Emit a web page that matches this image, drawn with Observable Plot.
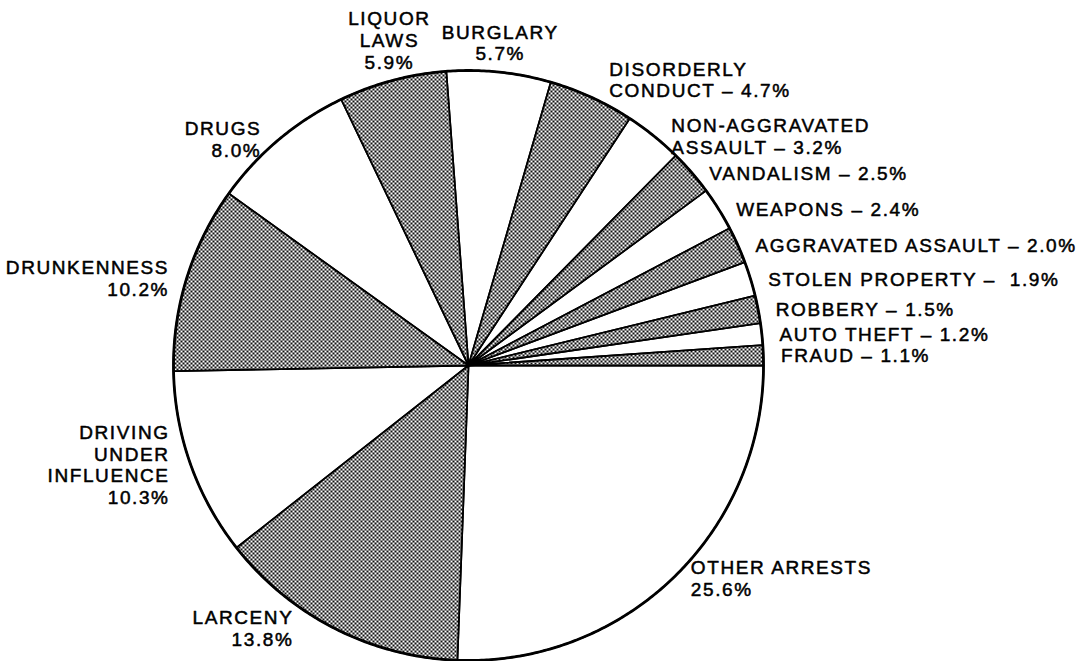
<!DOCTYPE html>
<html><head><meta charset="utf-8">
<script src="https://cdn.jsdelivr.net/npm/d3@7"></script>
<script src="https://cdn.jsdelivr.net/npm/@observablehq/plot@0.6"></script>
<style>body{margin:0;background:#fff;} svg{display:block}</style>
</head><body><div id="chart"></div>
<script>
// Categories, clockwise from 3 o'clock
const categories = ["OTHER ARRESTS", "LARCENY", "DRIVING\nUNDER\nINFLUENCE", "DRUNKENNESS", "DRUGS",
  "LIQUOR\nLAWS", "BURGLARY", "DISORDERLY\nCONDUCT", "NON-AGGRAVATED\nASSAULT", "VANDALISM",
  "WEAPONS", "AGGRAVATED ASSAULT", "STOLEN PROPERTY", "ROBBERY", "AUTO THEFT", "FRAUD"];
const percents = [25.6, 13.8, 10.3, 10.2, 8.0, 5.9, 5.7, 4.7, 3.2, 2.5, 2.4, 2.0, 1.9, 1.5, 1.2, 1.1];
const separators = ["\n", "\n", "\n", "\n", "\n", "\n", "\n", " – ", " – ", " – ", " – ", " – ", " –  ", " – ", " – ", " – "];

const W = 1087, H = 661, R = 295, CX = 468, CY = 365;
const total = d3.sum(percents);

const slices = [];
const labels = [];
let acc = 0;
percents.forEach((p, i) => {
  const a0 = acc / total * 2 * Math.PI;
  acc += p;
  const a1 = acc / total * 2 * Math.PI;
  const name = categories[i];
  const pts = [{name, x: 0, y: 0}];
  const n = Math.max(2, Math.ceil((a1 - a0) / (Math.PI / 360)));
  for (let k = 0; k <= n; k++) {
    const a = a0 + (a1 - a0) * k / n;
    pts.push({name, x: Math.cos(a), y: -Math.sin(a)});
  }
  pts.push({name, x: 0, y: 0});
  slices.push({shaded: i % 2 === 1, pts});
  // label placement derived from the slice's mid-angle
  const am = (a0 + a1) / 2;
  const c = Math.cos(am), s = Math.sin(am);
  const label = name + separators[i] + p.toFixed(1) + "%";
  if (c > 0.3) {
    labels.push({label, x: c + 0.06, y: -s, anchor: "start", line: s < -0.85 ? "bottom" : "middle"});
  } else if (c < -0.3) {
    const gap = 0.06 + (s > 0 ? 0.1 * s * s : 0);
    labels.push({label, x: c - gap, y: -s, anchor: "end", line: "middle"});
  } else {
    labels.push({label, x: 1.04 * c, y: -1.04 * s, anchor: "middle", line: s < 0 ? "bottom" : "top"});
  }
});

const outline = d3.range(0, 721).map(k => ({x: Math.cos(k / 720 * 2 * Math.PI), y: Math.sin(k / 720 * 2 * Math.PI)}));

const shadedPts = slices.filter(d => d.shaded).flatMap(d => d.pts);
const whitePts = slices.filter(d => !d.shaded).flatMap(d => d.pts);

const textOpts = {x: "x", y: "y", text: "label", fontSize: 19, lineHeight: 1.15, fill: "black", stroke: "black", strokeWidth: 0.5};
const textMarks = [];
for (const anchor of ["start", "end", "middle"]) {
  for (const line of ["top", "middle", "bottom"]) {
    const sub = labels.filter(d => d.anchor === anchor && d.line === line);
    if (sub.length) textMarks.push(Plot.text(sub, {...textOpts, textAnchor: anchor, lineAnchor: line}));
  }
}

const chart = Plot.plot({
  width: W, height: H, margin: 0,
  x: {domain: [-CX / R, (W - CX) / R], axis: null},
  y: {domain: [-(H - CY) / R, CY / R], axis: null},
  style: "font-family: 'Liberation Sans', Arial, sans-serif; letter-spacing: 1.6px; background: white;",
  marks: [
    Plot.line(whitePts, {x: "x", y: "y", z: "name", fill: "white", stroke: "black", strokeWidth: 1.8, strokeLinejoin: "round"}),
    Plot.line(shadedPts, {x: "x", y: "y", z: "name", fill: "url(#checker)", stroke: "black", strokeWidth: 1.8, strokeLinejoin: "round"}),
    Plot.line(outline, {x: "x", y: "y", stroke: "black", strokeWidth: 2.8}),
    ...textMarks
  ]
});

d3.select(chart).insert("defs", ":first-child").html(
  '<pattern id="checker" patternUnits="userSpaceOnUse" width="4" height="4">' +
  '<rect width="4" height="4" fill="white"/>' +
  '<rect x="0" y="0" width="2" height="2" fill="#111"/>' +
  '<rect x="2" y="2" width="2" height="2" fill="#111"/></pattern>');

document.getElementById("chart").appendChild(chart);
</script>
</body></html>
